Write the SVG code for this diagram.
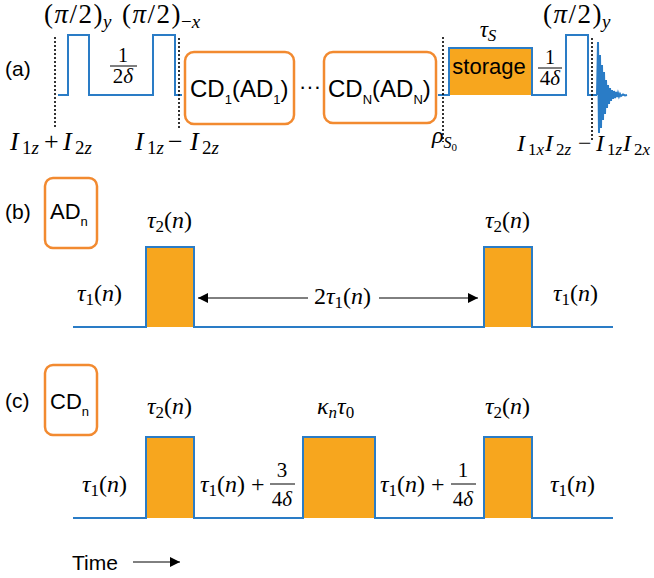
<svg xmlns="http://www.w3.org/2000/svg" width="654" height="578" viewBox="0 0 654 578">
<style>
.sans{font-family:"Liberation Sans",Arial,sans-serif;fill:#000}
.m{font-family:"Liberation Serif","Times New Roman",serif;fill:#000}
.i{font-style:italic}
.wave{fill:none;stroke:#2a7cc6;stroke-width:2;stroke-linejoin:miter}
.pulse{fill:#f7a61e;stroke:none}
.box{fill:#fff;stroke:#f28a30;stroke-width:2.5}
.dot{stroke:#000;stroke-width:1.6;stroke-dasharray:2 2;fill:none}
.arr{stroke:#000;stroke-width:1;fill:none}
.fr{stroke:#000;stroke-width:1}
.pi{letter-spacing:1.5px}
</style>
<defs>
<marker id="ah" viewBox="0 0 10 10" refX="10" refY="5" markerWidth="12" markerHeight="10" markerUnits="userSpaceOnUse" orient="auto">
<path d="M0,0 L10,5 L0,10 z" fill="#000"/>
</marker>
</defs>
<rect width="654" height="578" fill="#fff"/>

<!-- Panel (a) -->
<g id="panel-a">
<text class="sans" x="5" y="76" font-size="21">(a)</text>
<rect class="pulse" x="449" y="48" width="83" height="47"/>
<path class="wave" d="M58,95 H68 V35 H89 V95 H153 V35 H175 V95 H182"/>
<path class="wave" d="M438,95 H449 V48 H532 V95 H566 V35 H588 V95 H597"/>
<path class="wave" stroke-width="1.6" d="M597,95 L598,42 L599,133 L600,55 L601,128 L602,65 L603,120 L604,72 L605,114 L606,80 L607,108 L608,85 L609,104 L610,88 L611,101 L612,90 L613,99 L614,91 L615,98 L616,92 L617,97 L618,93 L619,96.5 L620,94 L621,96 L623,94.5 L625,95.5 L627,95"/>
<line class="dot" x1="55" y1="37" x2="55" y2="129"/>
<line class="dot" x1="179" y1="38" x2="179" y2="129"/>
<line class="dot" x1="443" y1="37" x2="443" y2="142"/>
<line class="dot" x1="592" y1="38" x2="592" y2="140"/>

<text class="m pi" x="44" y="23" font-size="27">(<tspan class="i">π</tspan>/2)</text>
<text class="m i" x="103" y="28" font-size="19">y</text>
<text class="m pi" x="122" y="23" font-size="27">(<tspan class="i">π</tspan>/2)</text>
<text class="m" x="181" y="28" font-size="19">−<tspan class="i">x</tspan></text>
<text class="m pi" x="543" y="23" font-size="27">(<tspan class="i">π</tspan>/2)</text>
<text class="m i" x="602" y="28" font-size="19">y</text>

<text class="m" x="123" y="62" font-size="20" text-anchor="middle">1</text>
<line class="fr" x1="110" y1="66" x2="137" y2="66"/>
<text class="m" x="123" y="83" font-size="21" text-anchor="middle">2<tspan class="i">δ</tspan></text>

<text class="m i" x="488" y="37" font-size="23" text-anchor="middle">τ<tspan font-size="17" dy="4">S</tspan></text>
<text class="sans" x="489" y="74" font-size="22" text-anchor="middle">storage</text>

<text class="m" x="550" y="64" font-size="20" text-anchor="middle">1</text>
<line class="fr" x1="538" y1="68" x2="562" y2="68"/>
<text class="m" x="550" y="85" font-size="21" text-anchor="middle">4<tspan class="i">δ</tspan></text>

<text class="m i" x="10" y="150" font-size="26">I</text>
<text class="m" x="22" y="154" font-size="19">1<tspan class="i">z</tspan></text>
<text class="m" x="44" y="150" font-size="26">+</text>
<text class="m i" x="63" y="150" font-size="26">I</text>
<text class="m" x="75" y="154" font-size="19">2<tspan class="i">z</tspan></text>

<text class="m i" x="135" y="150" font-size="26">I</text>
<text class="m" x="147" y="154" font-size="19">1<tspan class="i">z</tspan></text>
<text class="m" x="168" y="150" font-size="26">−</text>
<text class="m i" x="190" y="150" font-size="26">I</text>
<text class="m" x="202" y="154" font-size="19">2<tspan class="i">z</tspan></text>

<text class="m i" x="432" y="143" font-size="24">ρ<tspan font-size="16" dy="5">S<tspan font-size="11" dy="3" font-style="normal">0</tspan></tspan></text>

<text class="m i" x="517" y="151" font-size="24">I</text>
<text class="m" x="528" y="155" font-size="17">1<tspan class="i">x</tspan></text>
<text class="m i" x="545" y="151" font-size="24">I</text>
<text class="m" x="556" y="155" font-size="17">2<tspan class="i">z</tspan></text>
<text class="m" x="578" y="151" font-size="24">−</text>
<text class="m i" x="596" y="151" font-size="24">I</text>
<text class="m" x="607" y="155" font-size="17">1<tspan class="i">z</tspan></text>
<text class="m i" x="623" y="151" font-size="24">I</text>
<text class="m" x="634" y="155" font-size="17">2<tspan class="i">x</tspan></text>
</g>

<g id="node-cd1">
<rect class="box" x="185" y="52" width="109" height="72" rx="9"/>
<text class="sans" x="190" y="97" font-size="24">CD<tspan font-size="13" dy="7">1</tspan><tspan dy="-7">(AD</tspan><tspan font-size="13" dy="7">1</tspan><tspan dy="-7">)</tspan></text>
</g>
<g id="ellipsis">
<text class="sans" x="299" y="94" font-size="22">···</text>
</g>
<g id="node-cdN">
<rect class="box" x="324" y="52" width="112" height="71" rx="9"/>
<text class="sans" x="328" y="97" font-size="24">CD<tspan font-size="13" dy="7">N</tspan><tspan dy="-7">(AD</tspan><tspan font-size="13" dy="7">N</tspan><tspan dy="-7">)</tspan></text>
</g>

<!-- Panel (b) -->
<g id="panel-b">
<text class="sans" x="5" y="219" font-size="21">(b)</text>
<rect class="pulse" x="146" y="247" width="48" height="80"/>
<rect class="pulse" x="484" y="247" width="48" height="80"/>
<path class="wave" d="M73,327 H146 V247 H194 V327 H484 V247 H532 V327 H613"/>
<text class="m" x="147" y="228" font-size="24"><tspan class="i">τ</tspan><tspan font-size="17" dy="4">2</tspan><tspan dy="-4">(<tspan class="i">n</tspan>)</tspan></text>
<text class="m" x="485" y="228" font-size="24"><tspan class="i">τ</tspan><tspan font-size="17" dy="4">2</tspan><tspan dy="-4">(<tspan class="i">n</tspan>)</tspan></text>
<text class="m" x="77" y="301" font-size="24"><tspan class="i">τ</tspan><tspan font-size="17" dy="4">1</tspan><tspan dy="-4">(<tspan class="i">n</tspan>)</tspan></text>
<text class="m" x="553" y="301" font-size="24"><tspan class="i">τ</tspan><tspan font-size="17" dy="4">1</tspan><tspan dy="-4">(<tspan class="i">n</tspan>)</tspan></text>
<text class="m" x="314" y="304" font-size="24">2<tspan class="i">τ</tspan><tspan font-size="17" dy="4">1</tspan><tspan dy="-4">(<tspan class="i">n</tspan>)</tspan></text>
</g>
<g id="node-adn">
<rect class="box" x="45" y="178" width="52" height="70" rx="8"/>
<text class="sans" x="50" y="219" font-size="22">AD<tspan font-size="13" dy="7">n</tspan></text>
</g>

<!-- Panel (c) -->
<g id="panel-c">
<text class="sans" x="5" y="408" font-size="21">(c)</text>
<rect class="pulse" x="146" y="437" width="48" height="81"/>
<rect class="pulse" x="303" y="437" width="72" height="81"/>
<rect class="pulse" x="484" y="437" width="48" height="81"/>
<path class="wave" d="M73,518 H146 V437 H194 V518 H303 V437 H375 V518 H484 V437 H532 V518 H613"/>
<text class="m" x="147" y="414" font-size="24"><tspan class="i">τ</tspan><tspan font-size="17" dy="4">2</tspan><tspan dy="-4">(<tspan class="i">n</tspan>)</tspan></text>
<text class="m" x="485" y="414" font-size="24"><tspan class="i">τ</tspan><tspan font-size="17" dy="4">2</tspan><tspan dy="-4">(<tspan class="i">n</tspan>)</tspan></text>
<text class="m" x="317" y="414" font-size="24"><tspan class="i">κ</tspan><tspan class="i" font-size="17" dy="4">n</tspan><tspan class="i" dy="-4">τ</tspan><tspan font-size="17" dy="4">0</tspan></text>
<text class="m" x="82" y="492" font-size="24"><tspan class="i">τ</tspan><tspan font-size="17" dy="4">1</tspan><tspan dy="-4">(<tspan class="i">n</tspan>)</tspan></text>
<text class="m" x="550" y="492" font-size="24"><tspan class="i">τ</tspan><tspan font-size="17" dy="4">1</tspan><tspan dy="-4">(<tspan class="i">n</tspan>)</tspan></text>
<text class="m" x="200" y="492" font-size="24"><tspan class="i">τ</tspan><tspan font-size="17" dy="4">1</tspan><tspan dy="-4">(<tspan class="i">n</tspan>) +</tspan></text>
<text class="m" x="282" y="477" font-size="21" text-anchor="middle">3</text>
<line class="fr" x1="270" y1="484" x2="295" y2="484"/>
<text class="m" x="282" y="506" font-size="21" text-anchor="middle">4<tspan class="i">δ</tspan></text>
<text class="m" x="380" y="492" font-size="24"><tspan class="i">τ</tspan><tspan font-size="17" dy="4">1</tspan><tspan dy="-4">(<tspan class="i">n</tspan>) +</tspan></text>
<text class="m" x="463" y="477" font-size="21" text-anchor="middle">1</text>
<line class="fr" x1="451" y1="484" x2="476" y2="484"/>
<text class="m" x="463" y="506" font-size="21" text-anchor="middle">4<tspan class="i">δ</tspan></text>
<text class="sans" x="72" y="570" font-size="21">Time</text>
</g>
<g id="node-cdn">
<rect class="box" x="45" y="365" width="52" height="70" rx="8"/>
<text class="sans" x="50" y="409" font-size="22">CD<tspan font-size="13" dy="7">n</tspan></text>
</g>

<g id="connectors">
<line class="arr" x1="308" y1="298" x2="198" y2="298" marker-end="url(#ah)"/>
<line class="arr" x1="379" y1="298" x2="478" y2="298" marker-end="url(#ah)"/>
<line class="arr" x1="133" y1="562" x2="180" y2="562" marker-end="url(#ah)"/>
</g>
</svg>
